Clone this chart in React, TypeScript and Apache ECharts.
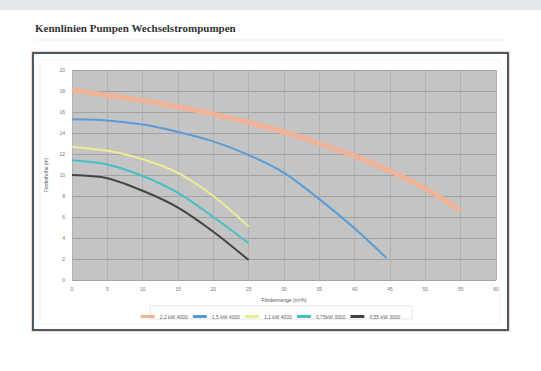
import React, { useEffect, useRef } from "react";
import * as echarts from "echarts";

const xTicks = [0, 5, 10, 15, 20, 25, 30, 35, 40, 45, 50, 55, 60];
const seriesNames = ["2,2 kW 4000", "1,5 kW 4000", "1,1 kW 4000", "0,75kW 3000", "0,55 kW 3000"];
const s22 = [[0, 18.1], [5, 17.6], [10, 17.1], [15, 16.5], [20, 15.8], [25, 15.0], [30, 14.1], [35, 13.0], [40, 11.8], [45, 10.4], [50, 8.7], [55, 6.6]];
const s15 = [[0, 15.3], [5, 15.2], [10, 14.8], [15, 14.1], [20, 13.2], [25, 11.9], [30, 10.2], [35, 7.7], [40, 4.9], [44.5, 2.1]];
const s11 = [[0, 12.7], [5, 12.3], [10, 11.5], [15, 10.2], [20, 8.0], [25, 5.1]];
const s075 = [[0, 11.4], [5, 11.0], [10, 9.9], [15, 8.3], [20, 6.0], [25, 3.5]];
const s055 = [[0, 10.0], [5, 9.7], [10, 8.5], [15, 6.9], [20, 4.6], [25, 1.9]];
const colors = ["#f1b398", "#5b9bd5", "#eded92", "#45c0c6", "#444444"];
const widths = [5, 2, 2, 2, 2];

export default function App() {
  const ref = useRef<HTMLDivElement>(null);
  useEffect(() => {
    const chart = echarts.init(ref.current!, null, { renderer: "svg" });
    const data = [s22, s15, s11, s075, s055];
    chart.setOption({
      animation: false,
      backgroundColor: "#ffffff",
      graphic: [
        { type: "rect", shape: { x: 0, y: 0, width: 541, height: 10 }, style: { fill: "#e3e8ed" }, z: -10 },
        { type: "text", x: 35, y: 22, style: { text: "Kennlinien Pumpen Wechselstrompumpen", font: "bold 11px 'Liberation Serif'", fill: "#333" } },
        { type: "line", shape: { x1: 35, y1: 40, x2: 508, y2: 40 }, style: { stroke: "#eeeeee", lineWidth: 1 } },
        { type: "rect", shape: { x: 33, y: 53, width: 475, height: 277 }, style: { fill: "none", stroke: "#f3d9cf", lineWidth: 4 }, z: -5 },
        { type: "rect", shape: { x: 33, y: 53, width: 475, height: 277 }, style: { fill: "#ffffff", stroke: "#4c5a60", lineWidth: 2 }, z: -4 },
        { type: "rect", shape: { x: 40, y: 60, width: 460, height: 264 }, style: { fill: "none", stroke: "#f0f0f0", lineWidth: 1 }, z: -3 },
        { type: "rect", shape: { x: 150, y: 306, width: 262, height: 13 }, style: { fill: "#ffffff", stroke: "#e6e6e6", lineWidth: 1 }, z: -2 },
      ],
      grid: { left: 72, top: 70, width: 424, height: 210, show: true, backgroundColor: "#c4c4c4", borderWidth: 0 },
      legend: {
        top: 309, left: "center",
        icon: "rect",
        itemWidth: 14, itemHeight: 3, itemGap: 5,
        textStyle: { fontSize: 5, color: "#666", fontFamily: "Liberation Sans" },
        data: seriesNames,
      },
      xAxis: {
        type: "value", min: 0, max: 60, interval: 5,
        name: "Fördermenge (m³/h)", nameLocation: "middle", nameGap: 17,
        nameTextStyle: { fontSize: 5, color: "#555", fontFamily: "Liberation Sans" },
        axisLine: { show: false }, axisTick: { show: false },
        axisLabel: { fontSize: 5, color: "#777", margin: 6, customValues: xTicks },
        splitLine: { show: true, lineStyle: { color: "#b0b0b0", width: 1 } },
      },
      yAxis: {
        type: "value", min: 0, max: 20, interval: 2,
        name: "Förderhöhe (m)", nameLocation: "middle", nameGap: 15,
        nameTextStyle: { fontSize: 5, color: "#555", fontFamily: "Liberation Sans" },
        axisLine: { show: false }, axisTick: { show: false },
        axisLabel: { fontSize: 5, color: "#777", margin: 7 },
        splitLine: { show: true, lineStyle: { color: "#a3a3a3", width: 1 } },
      },
      series: data.map((d, i) => ({
        name: seriesNames[i], type: "line", data: d, smooth: 0.3, showSymbol: false, symbol: "none",
        lineStyle: { color: colors[i], width: widths[i] }, itemStyle: { color: colors[i] },
      })),
    });
    return () => chart.dispose();
  }, []);
  return <div ref={ref} style={{ position: "fixed", left: 0, top: 0, width: 541, height: 371 }} />;
}
